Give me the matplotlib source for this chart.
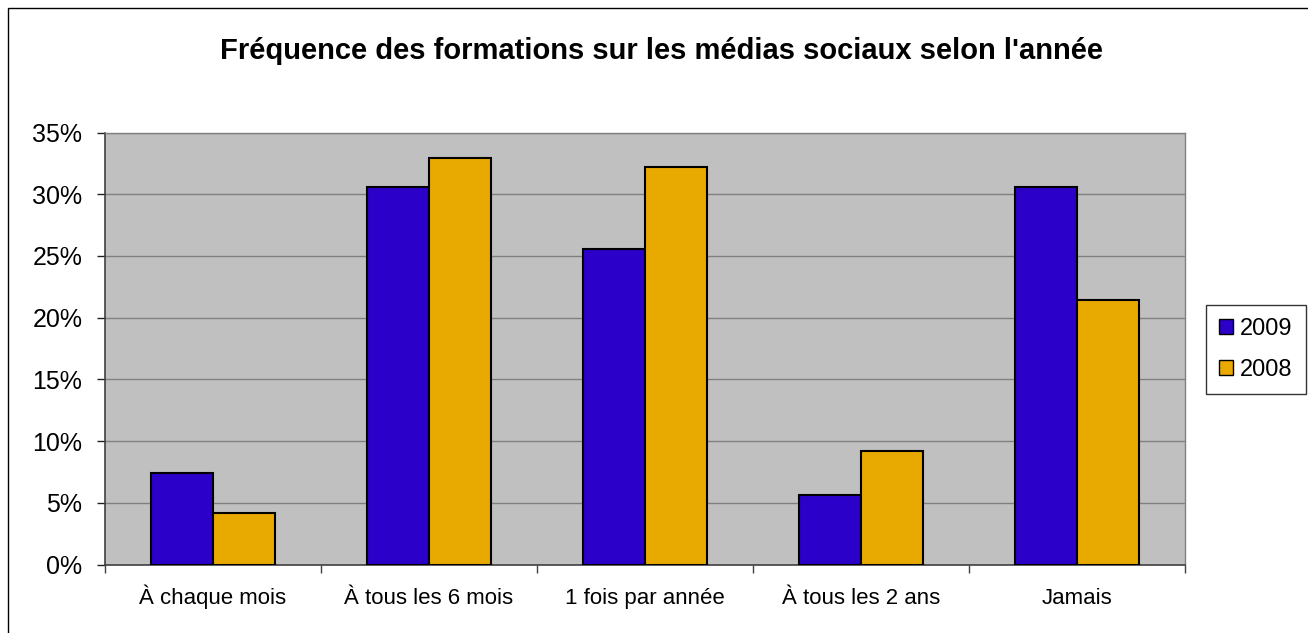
import matplotlib
matplotlib.use("Agg")
import matplotlib.pyplot as plt
import numpy as np
from matplotlib.ticker import PercentFormatter, FixedLocator
from matplotlib.patches import Rectangle

plt.rcParams['font.family'] = ['Liberation Sans', 'DejaVu Sans']

title = "Fréquence des formations sur les médias sociaux selon l'année"
categories = ["À chaque mois", "À tous les 6 mois", "1 fois par année",
              "À tous les 2 ans", "Jamais"]
series_names = ["2009", "2008"]
values_2009 = [7.4, 30.6, 25.6, 5.6, 30.6]
values_2008 = [4.2, 32.9, 32.2, 9.2, 21.4]
colors = ["#2B00C8", "#E8A900"]

W, H = 1308, 633
fig = plt.figure(figsize=(W / 100, H / 100), dpi=100)

# outer chart frame
fig.patches.append(Rectangle((8 / W, -0.1), 1.2, 1 - 8 / H + 0.1,
                             transform=fig.transFigure, fill=False,
                             edgecolor="black", linewidth=1.0))

left, right, top, bottom = 105, 1185, 132.5, 564.5
ax = fig.add_axes([left / W, 1 - bottom / H, (right - left) / W, (bottom - top) / H])
ax.set_facecolor("#C0C0C0")

n = len(categories)
x = np.arange(n)
bw = 1 / 3.5
ax.bar(x - bw / 2, values_2009, width=bw, color=colors[0], edgecolor="black",
       linewidth=1.5, label=series_names[0], zorder=3)
ax.bar(x + bw / 2, values_2008, width=bw, color=colors[1], edgecolor="black",
       linewidth=1.5, label=series_names[1], zorder=3)

ax.set_xlim(-0.5, n - 0.5)
ax.set_ylim(0, 35)
ax.set_yticks(np.arange(0, 36, 5))
ax.yaxis.set_major_formatter(PercentFormatter(decimals=0))
ax.yaxis.grid(True, color="#808080", linewidth=1.0, zorder=0)
ax.set_axisbelow(True)

ax.set_xticks(x)
ax.set_xticklabels(categories, fontsize=16)
for lbl in ax.get_xticklabels():
    lbl.set_verticalalignment("baseline")
ax.xaxis.set_minor_locator(FixedLocator(np.arange(-0.5, n, 1.0)))
ax.tick_params(axis="x", which="major", length=0, pad=28.5)
ax.tick_params(axis="x", which="minor", length=6, width=1, color="#404040", direction="out")
ax.tick_params(axis="y", length=5.8, width=1, color="#202020", labelsize=18, pad=10.5)

for side in ["top", "right"]:
    ax.spines[side].set_color("#808080")
    ax.spines[side].set_linewidth(1.0)
for side in ["left", "bottom"]:
    ax.spines[side].set_color("#404040")
    ax.spines[side].set_linewidth(1.2)

fig.text(662 / W, 1 - 51 / H, title, ha="center", va="center",
         fontsize=21, fontweight="bold")

leg = ax.legend(loc="upper left", bbox_to_anchor=(1206 / W, 1 - 305 / H),
                bbox_transform=fig.transFigure, fontsize=17, frameon=True,
                fancybox=False, edgecolor="black", handlelength=0.6,
                handleheight=0.6, handletextpad=0.3, borderpad=0.55,
                labelspacing=0.8, borderaxespad=0)
leg.get_frame().set_linewidth(1.0)
for h in leg.legend_handles:
    h.set_linewidth(1.0)

fig.savefig("out.png", dpi=100)
